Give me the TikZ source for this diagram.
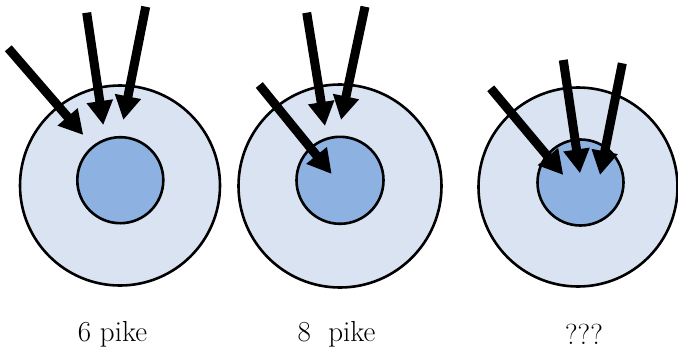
\documentclass[tikz,border=0pt]{standalone}
\usetikzlibrary{arrows.meta}
\definecolor{outerblue}{RGB}{218,227,241}
\definecolor{innerblue}{RGB}{141,178,226}
\begin{document}
\begin{tikzpicture}[x=1pt,y=-1pt,
  outerc/.style={circle,draw=black,line width=2.6pt,fill=outerblue,inner sep=0pt,minimum size=#1},
  innerc/.style={circle,draw=black,line width=2.6pt,fill=innerblue,inner sep=0pt,minimum size=#1},
  bigarrow/.style={line width=9pt,line cap=butt,-{Triangle[width=25pt,length=24pt]}},
  lbl/.style={font=\fontsize{29}{32}\selectfont,anchor=base,inner sep=0pt}]
\useasboundingbox (0,0) rectangle (678,351);
% circle 1
\node[outerc=200pt] (o1) at (120,185.5) {};
\node[innerc=86pt] (i1) at (120.3,180.2) {};
% circle 2
\node[outerc=203pt] (o2) at (340,186) {};
\node[innerc=87pt] (i2) at (340,180.3) {};
% circle 3
\node[outerc=199pt] (o3) at (578,187) {};
\node[innerc=86pt] (i3) at (580.5,182.5) {};
% arrow ends
\coordinate (a1s) at (8.3,48.3);   \coordinate (a1e) at (83.3,135);
\coordinate (b1s) at (86.7,12.7);  \coordinate (b1e) at (103.3,125);
\coordinate (c1s) at (145.7,6.7);  \coordinate (c1e) at (123.3,120);
\coordinate (a2s) at (259.3,85);   \coordinate (a2e) at (331.7,174);
\coordinate (b2s) at (306.7,12.7); \coordinate (b2e) at (325,126);
\coordinate (c2s) at (365,6.7);    \coordinate (c2e) at (341,120);
\coordinate (a3s) at (490.7,88.3); \coordinate (a3e) at (563.3,175);
\coordinate (b3s) at (563.3,60);   \coordinate (b3e) at (580,173.3);
\coordinate (c3s) at (622.3,63.3); \coordinate (c3e) at (600,175);
\foreach \n in {a1,b1,c1,a2,b2,c2,a3,b3,c3}
  \draw[bigarrow] (\n s) -- (\n e);
% labels
\node[lbl] (l1) at (112.5,341) {6 pike};
\node[lbl] (l2) at (336.5,341) {8~~pike};
\node[lbl] (l3) at (584,344) {???};
\end{tikzpicture}
\end{document}
